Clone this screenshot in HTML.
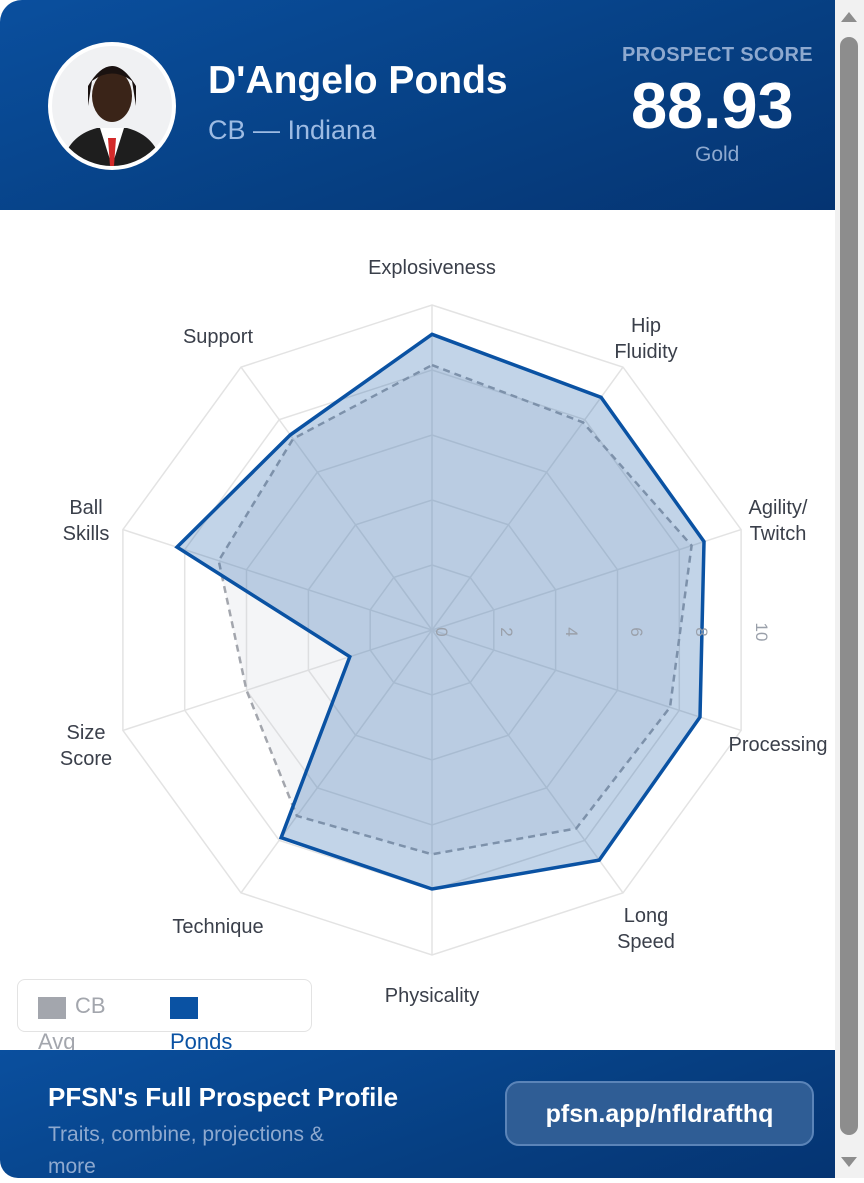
<!DOCTYPE html>
<html><head><meta charset="utf-8"><style>
html,body{margin:0;padding:0;background:#fff;}
body{width:864px;height:1178px;position:relative;overflow:hidden;font-family:"Liberation Sans",sans-serif;}
.hdr{position:absolute;left:0;top:0;width:835px;height:210px;background:linear-gradient(160deg,#0a4f9e 0%,#063f82 60%,#053472 100%);border-top-left-radius:22px;}
.av{position:absolute;left:48px;top:42px;width:128px;height:128px;border-radius:50%;background:#fff;}
.av .in{position:absolute;left:4px;top:4px;width:120px;height:120px;border-radius:50%;background:#f0f1f3;overflow:hidden;}
.name{position:absolute;left:208px;top:59px;color:#fff;font-size:39px;font-weight:bold;}
.sub{position:absolute;left:208px;top:115px;color:#9dbbe3;font-size:27px;}
.ps{position:absolute;left:622px;top:44px;color:#8ea9cf;font-size:20px;font-weight:bold;letter-spacing:0.3px;}
.score{position:absolute;left:631px;top:68px;color:#fff;font-size:65px;font-weight:bold;}
.gold{position:absolute;left:695px;top:143px;color:#8ea9cf;font-size:21px;}
.ftr{position:absolute;left:0;top:1050px;width:835px;height:128px;background:linear-gradient(160deg,#0a4f9e 0%,#063f82 60%,#053472 100%);border-bottom-left-radius:18px;}
.ft1{position:absolute;left:48px;top:1082px;color:#fff;font-size:26px;font-weight:bold;}
.ft2{position:absolute;left:48px;top:1119px;color:#8ea9cf;font-size:21px;line-height:32px;width:315px;}
.btn{position:absolute;left:505px;top:1081px;width:309px;height:65px;border:2px solid #5b84b8;border-radius:14px;background:#2f5d95;color:#fff;font-size:25px;font-weight:bold;text-align:center;line-height:62px;box-sizing:border-box;}
.sb{position:absolute;left:835px;top:0;width:29px;height:1178px;background:#f1f1f1;}
.thumb{position:absolute;left:840px;top:37px;width:18px;height:1098px;background:#8d8d8d;border-radius:9px;}
.lg{position:absolute;left:17px;top:979px;width:295px;height:53px;border:1.5px solid #e3e3e3;border-radius:8px;box-sizing:border-box;}
.lt{position:absolute;font-size:22px;}
svg text{font-family:"Liberation Sans",sans-serif;}
</style></head><body>
<div class="hdr"></div>
<div class="av"><div class="in"><svg width="120" height="120"><path d="M10 120 Q15 90 45 82 L75 82 Q105 90 110 120Z" fill="#1e1e1e"/><path d="M48 82 L60 120 L72 82Z" fill="#fff"/><path d="M56 92 L64 92 L62 120 L58 120Z" fill="#d42a2a"/><ellipse cx="60" cy="50" rx="20" ry="26" fill="#3a2418"/><path d="M36 40 Q60 0 84 40 L84 60 L80 35 Q60 20 40 35 L36 60Z" fill="#1a1210"/></svg></div></div>
<div class="name">D'Angelo Ponds</div>
<div class="sub">CB — Indiana</div>
<div class="ps">PROSPECT SCORE</div>
<div class="score">88.93</div>
<div class="gold">Gold</div>

<svg id="ch" width="835" height="840" style="position:absolute;left:0;top:210px" viewBox="0 210 835 840"></svg>

<div class="lg"></div>
<div style="position:absolute;left:38px;top:997px;width:28px;height:22px;background:#a3a6ad"></div>
<div class="lt" style="left:75px;top:993px;color:#a3a6ad">CB</div>
<div class="lt" style="left:38px;top:1029px;color:#a3a6ad">Avg</div>
<div style="position:absolute;left:170px;top:997px;width:28px;height:22px;background:#0a52a3"></div>
<div class="lt" style="left:170px;top:1029px;color:#0a52a3">Ponds</div>

<div class="ftr"></div>
<div class="ft1">PFSN's Full Prospect Profile</div>
<div class="ft2">Traits, combine, projections &amp; more</div>
<div class="btn">pfsn.app/nfldrafthq</div>
<div class="sb"></div>
<div class="thumb"></div>
<div style="position:absolute;left:841px;top:12px;width:0;height:0;border-left:8px solid transparent;border-right:8px solid transparent;border-bottom:10px solid #8d8d8d"></div>
<div style="position:absolute;left:841px;top:1157px;width:0;height:0;border-left:8px solid transparent;border-right:8px solid transparent;border-top:10px solid #8d8d8d"></div>

<script>
var cx=432,cy=630,R=325,n=10;
var P=[9.1,8.85,8.8,8.67,8.75,7.97,7.9,2.66,8.25,7.42];
var A=[8.15,7.9,8.4,7.7,7.55,6.9,7.07,6.0,6.9,7.27];
function pt(i,v){var a=(-90+36*i)*Math.PI/180;return [cx+Math.cos(a)*R*v/10,cy+Math.sin(a)*R*v/10];}
function poly(vals){return vals.map(function(v,i){var p=pt(i,v);return p[0].toFixed(1)+','+p[1].toFixed(1)}).join(' ');}
var s='';
for(var k=1;k<=5;k++){var r=[];for(var i=0;i<n;i++)r.push(k*2);s+='<polygon points="'+poly(r)+'" fill="none" stroke="#e3e3e3" stroke-width="1.5"/>';}
for(var i=0;i<n;i++){var p=pt(i,10);s+='<line x1="'+cx+'" y1="'+cy+'" x2="'+p[0]+'" y2="'+p[1]+'" stroke="#e3e3e3" stroke-width="1.5"/>';}
s+='<polygon points="'+poly(A)+'" fill="rgba(200,205,215,0.2)" stroke="#a3a6ad" stroke-width="2.5" stroke-dasharray="7,5"/>';
s+='<polygon points="'+poly(P)+'" fill="rgba(10,82,163,0.25)" stroke="#0a52a3" stroke-width="3.5" stroke-linejoin="miter"/>';
var t=[0,2,4,6,8,10];
t.forEach(function(v){var x=cx+R*v/10+ (v==10?-1:4);s+='<text x="'+x+'" y="'+(cy+2)+'" transform="rotate(90 '+x+' '+(cy+2)+')" font-size="17" fill="#9aa0aa" text-anchor="middle">'+v+'</text>';});
var L=[["Explosiveness",432,274],["Hip|Fluidity",646,332],["Agility/|Twitch",778,514],["Processing",778,751],["Long|Speed",646,922],["Physicality",432,1002],["Technique",218,933],["Size|Score",86,739],["Ball|Skills",86,514],["Support",218,343]];
L.forEach(function(l){var parts=l[0].split('|');parts.forEach(function(w,j){s+='<text x="'+l[1]+'" y="'+(l[2]+j*26)+'" font-size="20" fill="#3a3f4a" text-anchor="middle">'+w+'</text>';});});
document.getElementById('ch').innerHTML=s;
</script>
</body></html>
